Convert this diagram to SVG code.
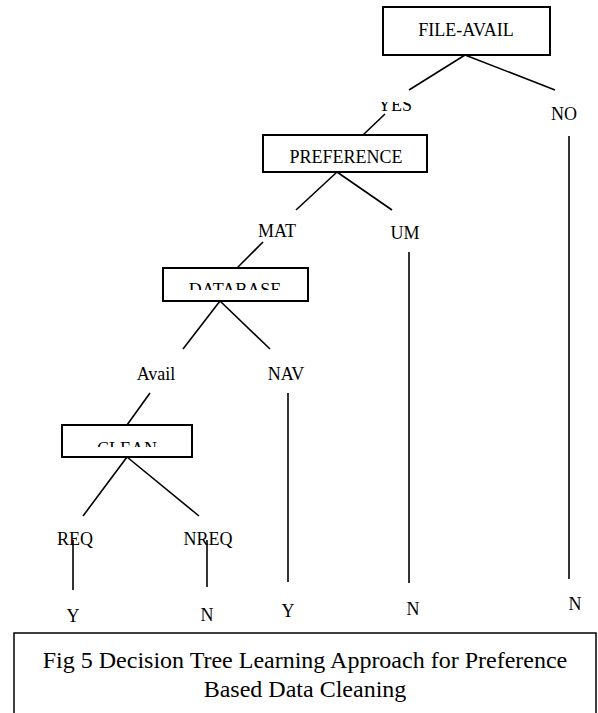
<svg xmlns="http://www.w3.org/2000/svg" width="598" height="713" viewBox="0 0 598 713">
  <style>
    .box { fill: #fff; stroke: #000; stroke-width: 2; }
    .edge { stroke: #000; stroke-width: 1.6; fill: none; }
    .lbl { font-family: "Liberation Serif", "Times New Roman", serif; font-size: 18px; fill: #000; text-anchor: middle; }
    .cap { font-family: "Liberation Serif", "Times New Roman", serif; font-size: 24px; fill: #000; text-anchor: middle; }
  </style>
  <defs>
    <clipPath id="clipYes"><rect x="370" y="102" width="60" height="20"/></clipPath>
    <clipPath id="clipDatabase"><rect x="165" y="270" width="141" height="20"/></clipPath>
    <clipPath id="clipClean"><rect x="64" y="427" width="126" height="20"/></clipPath>
  </defs>
  <rect width="598" height="713" fill="#fff"/>

  <!-- connectors -->
  <g id="connectors">
    <line class="edge" x1="465" y1="55" x2="409" y2="90"/>
    <line class="edge" x1="465" y1="55" x2="555" y2="90"/>
    <line class="edge" x1="385" y1="114" x2="363" y2="135"/>
    <line class="edge" x1="569" y1="136" x2="569" y2="579"/>
    <line class="edge" x1="337" y1="172" x2="296" y2="210"/>
    <line class="edge" x1="337" y1="172" x2="392" y2="210"/>
    <line class="edge" x1="263" y1="242" x2="237" y2="268"/>
    <line class="edge" x1="409" y1="252" x2="409" y2="583"/>
    <line class="edge" x1="220" y1="301" x2="183" y2="349"/>
    <line class="edge" x1="220" y1="301" x2="270" y2="349"/>
    <line class="edge" x1="288" y1="393" x2="288" y2="582"/>
    <line class="edge" x1="150" y1="393" x2="127" y2="425"/>
    <line class="edge" x1="127" y1="457" x2="83" y2="516"/>
    <line class="edge" x1="127" y1="457" x2="199" y2="516"/>
    <line class="edge" x1="73" y1="540" x2="73" y2="590"/>
    <line class="edge" x1="207" y1="540" x2="207" y2="587"/>
  </g>

  <!-- decision nodes -->
  <g id="file-avail">
    <rect class="box" x="383" y="7" width="167" height="48"/>
    <text class="lbl" x="466" y="36">FILE-AVAIL</text>
  </g>
  <g id="preference">
    <rect class="box" x="263" y="135" width="164" height="37"/>
    <text class="lbl" x="346" y="163">PREFERENCE</text>
  </g>
  <g id="database">
    <rect class="box" x="163" y="268" width="145" height="33"/>
    <text class="lbl" x="235" y="296" clip-path="url(#clipDatabase)">DATABASE</text>
  </g>
  <g id="clean">
    <rect class="box" x="62" y="425" width="130" height="32"/>
    <text class="lbl" x="127" y="455" clip-path="url(#clipClean)">CLEAN</text>
  </g>

  <!-- branch labels -->
  <g id="yes"><text class="lbl" x="395" y="111" clip-path="url(#clipYes)">YES</text></g>
  <g id="no"><text class="lbl" x="564" y="120">NO</text></g>
  <g id="mat"><text class="lbl" x="277" y="237">MAT</text></g>
  <g id="um"><text class="lbl" x="405" y="239">UM</text></g>
  <g id="avail"><text class="lbl" x="156" y="380">Avail</text></g>
  <g id="nav"><text class="lbl" x="286" y="380">NAV</text></g>
  <g id="req"><text class="lbl" x="75" y="545">REQ</text></g>
  <g id="nreq"><text class="lbl" x="208" y="545">NREQ</text></g>

  <!-- leaf outcomes -->
  <g id="leaf-y1"><text class="lbl" x="73" y="622">Y</text></g>
  <g id="leaf-n1"><text class="lbl" x="207" y="621">N</text></g>
  <g id="leaf-y2"><text class="lbl" x="288" y="617">Y</text></g>
  <g id="leaf-n2"><text class="lbl" x="413" y="615">N</text></g>
  <g id="leaf-n3"><text class="lbl" x="575" y="610">N</text></g>

  <!-- figure caption -->
  <g id="caption">
    <rect x="14" y="633" width="582" height="90" fill="#fff" stroke="#000" stroke-width="1.5"/>
    <text class="cap" x="305" y="668">Fig 5 Decision Tree Learning Approach for Preference</text>
    <text class="cap" x="305" y="697">Based Data Cleaning</text>
  </g>
</svg>
